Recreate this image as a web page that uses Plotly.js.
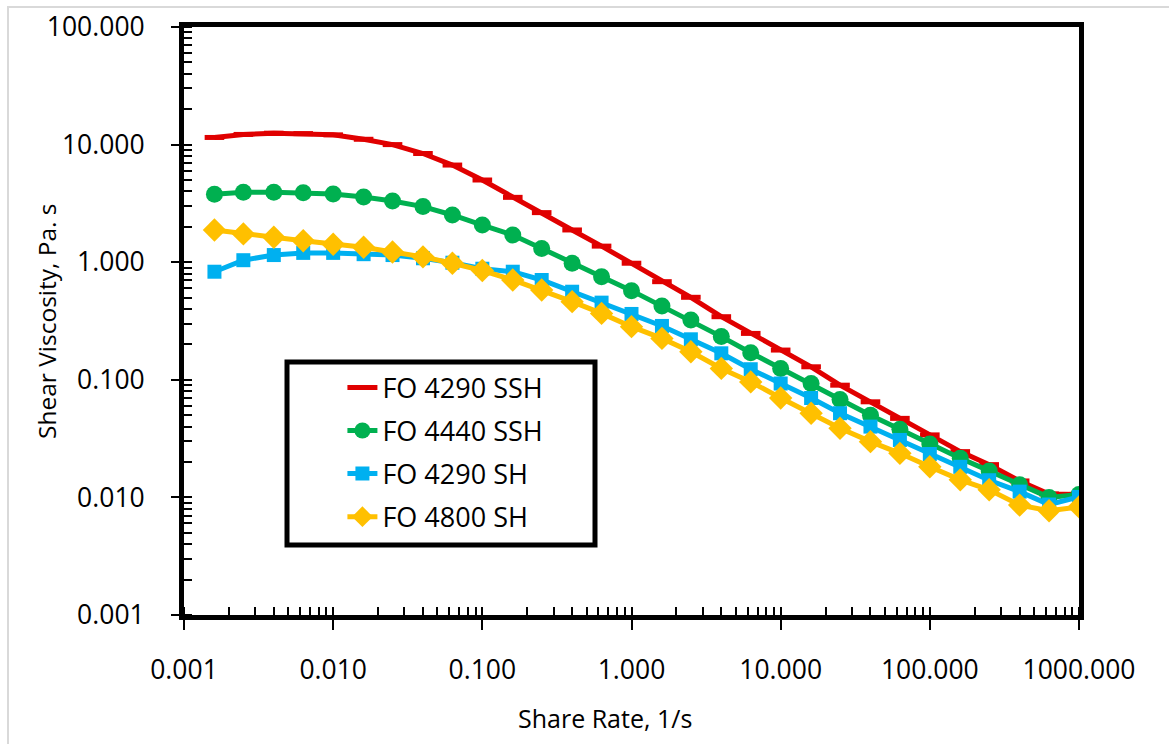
<!DOCTYPE html>
<html>
<head>
<meta charset="utf-8">
<script src="https://cdn.plot.ly/plotly-3.0.1.min.js"></script>
<style>
  html, body { margin: 0; padding: 0; background: #fff; overflow: hidden; }
  #frame { position: absolute; left: 7px; top: 6px; width: 1300px; height: 900px; border: 2px solid #d9d9d9; }
  #chart { position: absolute; left: 0; top: 0; width: 1169px; height: 744px; }
</style>
</head>
<body>
<div id="frame"></div>
<div id="chart"></div>
<script>
// Shear rate (1/s)
const shearRate = [0.0016, 0.0025, 0.004, 0.0063, 0.01, 0.016, 0.025, 0.04, 0.063, 0.1,
                   0.16, 0.25, 0.4, 0.63, 1, 1.6, 2.5, 4, 6.3, 10,
                   16, 25, 40, 63, 100, 160, 250, 400, 630, 1000];

// Shear viscosity (Pa.s)
const fo4290SSH = [11.5, 12.2, 12.5, 12.4, 12.1, 11.1, 10.0, 8.4, 6.7, 5.0,
                   3.56, 2.64, 1.88, 1.37, 0.98, 0.683, 0.503, 0.344, 0.248, 0.179,
                   0.129, 0.090, 0.065, 0.047, 0.034, 0.0245, 0.0190, 0.0138, 0.0107, 0.0106];
const fo4440SSH = [3.78, 3.93, 3.93, 3.90, 3.80, 3.58, 3.31, 2.97, 2.52, 2.07,
                   1.70, 1.31, 0.98, 0.753, 0.573, 0.424, 0.322, 0.233, 0.170, 0.125,
                   0.093, 0.068, 0.050, 0.038, 0.0285, 0.0215, 0.0168, 0.0128, 0.0100, 0.0106];
const fo4290SH  = [0.83, 1.04, 1.15, 1.20, 1.20, 1.17, 1.15, 1.08, 0.99, 0.88,
                   0.83, 0.706, 0.561, 0.453, 0.363, 0.287, 0.221, 0.168, 0.123, 0.093,
                   0.070, 0.052, 0.040, 0.0308, 0.0234, 0.0182, 0.0140, 0.0112, 0.0087, 0.0101];
const fo4800SH  = [1.88, 1.74, 1.63, 1.52, 1.42, 1.34, 1.22, 1.11, 0.98, 0.85,
                   0.706, 0.58, 0.462, 0.367, 0.283, 0.225, 0.173, 0.125, 0.096, 0.070,
                   0.052, 0.0387, 0.0298, 0.0237, 0.0182, 0.0141, 0.0116, 0.0086, 0.0077, 0.0083];

const seriesNames = ["FO 4290 SSH", "FO 4440 SSH", "FO 4290 SH", "FO 4800 SH"];

const xTickVals = [0.001, 0.01, 0.1, 1, 10, 100, 1000];
const xTickText = ["0.001", "0.010", "0.100", "1.000", "10.000", "100.000", "1000.000"];
const yTickVals = [0.001, 0.01, 0.1, 1, 10, 100];
const yTickText = ["0.001", "0.010", "0.100", "1.000", "10.000", "100.000"];

const xTitle = "Share Rate, 1/s";
const yTitle = "Shear Viscosity, Pa. s";

const FONT = "Open Sans, sans-serif";

function tr(y, name, color, symbol, size, group) {
  return {
    x: shearRate, y: y, name: name, type: "scatter", mode: "lines+markers",
    legendgroup: group,
    line: { color: color, width: 5 },
    marker: { color: color, symbol: symbol, size: size, line: { color: color, width: symbol.indexOf("line") === 0 ? 5 : 0 } }
  };
}

const data = [
  tr(fo4290SSH, seriesNames[0], "#E00000", "line-ew", 14, "a"),
  tr(fo4440SSH, seriesNames[1], "#00B050", "circle", 17, "b"),
  tr(fo4290SH,  seriesNames[2], "#00B0F0", "square", 14, "c"),
  tr(fo4800SH,  seriesNames[3], "#FFC000", "diamond", 18, "d")
];

const axisCommon = {
  type: "log",
  showgrid: false, zeroline: false,
  showline: true, linecolor: "#000", linewidth: 5, mirror: true,
  ticks: "outside", tickwidth: 2, tickcolor: "#000",
  tickfont: { family: FONT, size: 26.5, color: "#000" },
  minor: { ticks: "inside", ticklen: 8, tickwidth: 2, tickcolor: "#000", dtick: "D1", showgrid: false }
};

const layout = {
  width: 1169, height: 744,
  margin: { l: 184, r: 90, t: 27, b: 129 },
  paper_bgcolor: "rgba(0,0,0,0)",
  plot_bgcolor: "#fff",
  font: { family: FONT, color: "#000" },
  showlegend: true,
  xaxis: Object.assign({}, axisCommon, {
    range: [-3, 3], tickmode: "array", tickvals: xTickVals, ticktext: xTickText,
    ticklen: 10, ticklabelstandoff: 17
  }),
  yaxis: Object.assign({}, axisCommon, {
    range: [-3, 2], tickmode: "array", tickvals: yTickVals, ticktext: yTickText,
    ticklen: 8, ticklabelstandoff: 21
  }),
  legend: {
    x: 0.177, y: 0.428, xanchor: "left", yanchor: "top",
    bgcolor: "rgba(0,0,0,0)", borderwidth: 0,
    font: { family: FONT, size: 27, color: "#000" },
    traceorder: "grouped", tracegroupgap: 5
  },
  shapes: [{
    type: "rect", xref: "paper", yref: "paper",
    x0: (287 - 184) / 895, x1: (595 - 184) / 895,
    y0: (615 - 545) / 588, y1: (615 - 362) / 588,
    line: { color: "#000", width: 5 }, fillcolor: "#fff", layer: "below"
  }],
  annotations: [
    { text: xTitle, xref: "paper", yref: "paper", x: (605 - 184) / 895, y: (615 - 718) / 588,
      xanchor: "center", yanchor: "middle", showarrow: false, font: { family: FONT, size: 25, color: "#000" } },
    { text: yTitle, xref: "paper", yref: "paper", x: (46 - 184) / 895, y: 0.5, textangle: -90,
      xanchor: "center", yanchor: "middle", showarrow: false, font: { family: FONT, size: 24.5, color: "#000" } }
  ]
};

Plotly.newPlot("chart", data, layout, { displayModeBar: false, staticPlot: true });
</script>
</body>
</html>
